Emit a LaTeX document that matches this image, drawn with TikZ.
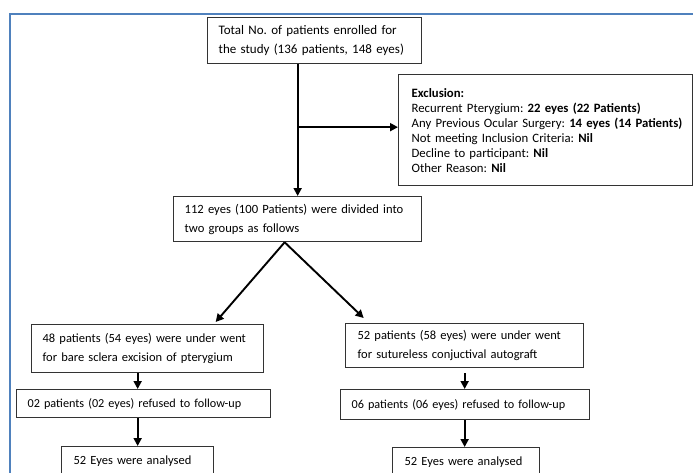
\documentclass[tikz,border=0pt]{standalone}
\usepackage{fontspec}
\setmainfont{Carlito}
\frenchspacing
\usetikzlibrary{arrows.meta}
\definecolor{frameblue}{RGB}{79,129,189}

\begin{document}
\begin{tikzpicture}[x=1pt, y=-1pt, >={Triangle[length=8pt, width=8pt]},
  main/.style = {draw=black!80, line width=1.3pt, rectangle, anchor=north west, align=left, inner ysep=0pt, font=\fontsize{12.5}{19}\selectfont},
  line/.style = {->, line width=1.9pt}]
  \useasboundingbox (0,0) rectangle (693,472);
  \clip (0,0) rectangle (693,472);
  \draw[frameblue, line width=1.5pt] (10,14) rectangle (720,500);

  \node[main, minimum width=214pt, minimum height=46pt, inner xsep=11pt, text width=192pt, font=\fontsize{13}{19}\selectfont] (1) at (207,17) {Total No. of patients enrolled for\\the study (136 patients, 148 eyes)};
  \node[main, minimum width=294pt, minimum height=111pt, inner xsep=13pt, text width=268pt, font=\fontsize{12.75}{15}\selectfont] (2) at (398,74) {\textbf{Exclusion:}\\Recurrent Pterygium: \textbf{22 eyes (22 Patients)}\\\mbox{Any Previous Ocular Surgery: \textbf{14 eyes (14 Patients)}}\\Not meeting Inclusion Criteria: \textbf{Nil}\\Decline to participant: \textbf{Nil}\\Other Reason: \textbf{Nil}};
  \node[main, minimum width=248pt, minimum height=45pt, inner xsep=11pt, text width=226pt, font=\fontsize{12.6}{19}\selectfont] (3) at (173,196) {112 eyes (100 Patients) were divided into\\two groups as follows};
  \node[main, minimum width=232pt, minimum height=48pt, inner xsep=11pt, text width=210pt] (4) at (31,324) {48 patients (54 eyes) were under went\\for bare sclera excision of pterygium};
  \node[main, minimum width=254pt, minimum height=28pt, inner xsep=11pt, text width=232pt, font=\fontsize{12.2}{15}\selectfont] (5) at (16,389) {02 patients (02 eyes) refused to follow-up};
  \node[main, minimum width=152pt, minimum height=30pt, inner xsep=12pt, text width=128pt] (6) at (61,446) {\mbox{52 Eyes were analysed}};
  \node[main, minimum width=238pt, minimum height=44pt, inner xsep=12pt, text width=214pt] (7) at (345,323) {52 patients (58 eyes) were under went\\for sutureless conjuctival autograft};
  \node[main, minimum width=249pt, minimum height=30pt, inner xsep=11pt, text width=227pt, font=\fontsize{12.2}{15}\selectfont] (8) at (340,389) {06 patients (06 eyes) refused to follow-up};
  \node[main, minimum width=147pt, minimum height=30pt, inner xsep=12pt, text width=123pt] (9) at (392,447) {\mbox{52 Eyes were analysed}};

  \draw[line] (3.north |- 1.south) -- (3.north);
  \draw[line] (3.north |- 2.west) ++(0,-3) -- ([yshift=3pt]2.west);
  \draw[line] ([xshift=-13pt]3.south) -- ([xshift=68pt, yshift=2pt]4.north);
  \draw[line] ([xshift=-13pt]3.south) -- ([xshift=-101pt, yshift=5pt]7.north);

  \draw[line] (6.north |- 4.south) -- (6.north |- 5.north);
  \draw[line] (6.north |- 5.south) -- (6.north);
  \draw[line] ([yshift=-5pt]7.south) -- (7.south |- 8.north);
  \draw[line] (7.south |- 8.south) -- (7.south |- 9.north);
\end{tikzpicture}
\end{document}
